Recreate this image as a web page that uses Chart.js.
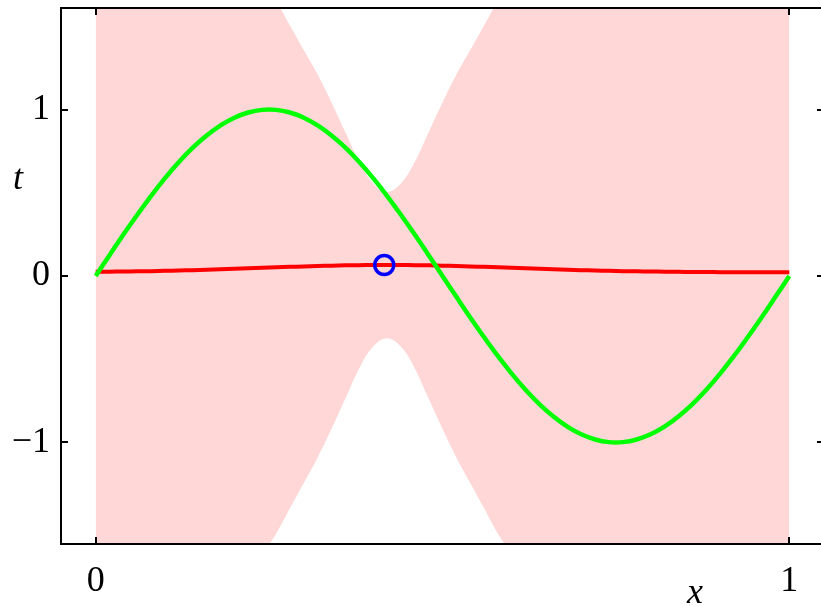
<!DOCTYPE html>
<html>
<head>
<meta charset="utf-8">
<script src="https://cdn.jsdelivr.net/npm/chart.js@4/dist/chart.umd.min.js"></script>
<style>
html,body{margin:0;padding:0;background:#fff;overflow:hidden;width:821px;height:606px;}
#wrap{width:826px;height:606px;}
</style>
</head>
<body>
<div id="wrap"><canvas id="c" width="826" height="606"></canvas></div>
<script>
// x grid (0 .. 1 step 0.02)
const xs = [0,0.02,0.04,0.06,0.08,0.10,0.12,0.14,0.16,0.18,0.20,0.22,0.24,0.26,0.28,0.30,0.32,0.34,0.36,0.38,0.40,0.42,0.44,0.46,0.48,0.50,0.52,0.54,0.56,0.58,0.60,0.62,0.64,0.66,0.68,0.70,0.72,0.74,0.76,0.78,0.80,0.82,0.84,0.86,0.88,0.90,0.92,0.94,0.96,0.98,1.00];
// green: true function
const trueCurve = [0,0.125,0.249,0.368,0.482,0.588,0.685,0.771,0.844,0.905,0.951,0.982,0.998,0.998,0.982,0.951,0.905,0.844,0.771,0.685,0.588,0.482,0.368,0.249,0.125,0,-0.125,-0.249,-0.368,-0.482,-0.588,-0.685,-0.771,-0.844,-0.905,-0.951,-0.982,-0.998,-0.998,-0.982,-0.951,-0.905,-0.844,-0.771,-0.685,-0.588,-0.482,-0.368,-0.249,-0.125,0];
// red: predictive mean
const meanCurve = [0.025,0.026,0.027,0.028,0.029,0.031,0.033,0.035,0.038,0.040,0.043,0.046,0.049,0.052,0.055,0.057,0.060,0.062,0.064,0.065,0.066,0.066,0.066,0.065,0.064,0.062,0.060,0.057,0.055,0.052,0.049,0.046,0.043,0.040,0.038,0.035,0.033,0.031,0.029,0.028,0.027,0.026,0.025,0.024,0.024,0.023,0.023,0.023,0.022,0.022,0.022];
// shaded band: mean +/- one standard deviation
const bandUpper = [2.31,2.29,2.27,2.25,2.22,2.19,2.153,2.115,2.068,2.01,1.943,1.866,1.769,1.652,1.505,1.357,1.21,1.042,0.864,0.685,0.556,0.506,0.556,0.685,0.864,1.042,1.21,1.357,1.505,1.652,1.769,1.866,1.943,2.01,2.068,2.115,2.153,2.19,2.22,2.25,2.27,2.29,2.31,2.32,2.33,2.34,2.35,2.36,2.37,2.38,2.39];
const bandLower = [-2.26,-2.23,-2.21,-2.19,-2.16,-2.13,-2.087,-2.045,-1.992,-1.93,-1.857,-1.774,-1.671,-1.548,-1.395,-1.243,-1.09,-0.918,-0.736,-0.555,-0.424,-0.374,-0.424,-0.555,-0.736,-0.918,-1.09,-1.243,-1.395,-1.548,-1.671,-1.774,-1.857,-1.93,-1.992,-2.045,-2.087,-2.13,-2.16,-2.19,-2.21,-2.23,-2.25,-2.27,-2.29,-2.30,-2.31,-2.32,-2.33,-2.34,-2.35];
// observed data point
const obsX = [0.416];
const obsT = [0.066];
// ticks
const xTicks = [0, 1];
const yTicks = [-1, 0, 1];
const xTickLabels = ['0', '1'];
const yTickLabels = ['\u22121', '0', '1'];

const SERIF = '"Liberation Serif", "Times New Roman", "DejaVu Serif", serif';
const pts = (ys) => xs.map((x, i) => ({x: x, y: ys[i]}));

const frame = {
  id: 'frame',
  afterDraw(chart) {
    const ctx = chart.ctx, a = chart.chartArea;
    const sx = chart.scales.x, sy = chart.scales.y;
    ctx.save();
    ctx.strokeStyle = '#000';
    ctx.lineWidth = 2;
    ctx.beginPath();
    ctx.rect(a.left, a.top, a.right - a.left, a.bottom - a.top);
    ctx.stroke();
    const L = 7;
    ctx.beginPath();
    xTicks.forEach(v => {
      const px = Math.round(sx.getPixelForValue(v));
      ctx.moveTo(px, a.bottom); ctx.lineTo(px, a.bottom - L);
      ctx.moveTo(px, a.top); ctx.lineTo(px, a.top + L);
    });
    yTicks.forEach(v => {
      const py = Math.round(sy.getPixelForValue(v));
      ctx.moveTo(a.left, py); ctx.lineTo(a.left + L, py);
      ctx.moveTo(a.right, py); ctx.lineTo(a.right - L, py);
    });
    ctx.stroke();
    ctx.fillStyle = '#000';
    ctx.font = 'italic 36px ' + SERIF;
    ctx.textAlign = 'center';
    ctx.textBaseline = 'alphabetic';
    ctx.fillText('t', 18, 189);
    ctx.fillText('x', 695, 603);
    ctx.restore();
  }
};

new Chart(document.getElementById('c'), {
  type: 'line',
  data: {
    datasets: [
      {data: obsX.map((x, i) => ({x: x, y: obsT[i]})), showLine: false, pointRadius: 9.5, pointBorderWidth: 3.5,
       pointBorderColor: '#0000ff', pointBackgroundColor: 'rgba(0,0,0,0)', order: 0},
      {data: pts(trueCurve), borderColor: '#00ff00', borderWidth: 4.5, pointRadius: 0, tension: 0.4, fill: false, order: 1},
      {data: pts(meanCurve), borderColor: '#ff0000', borderWidth: 4, pointRadius: 0, tension: 0.4, fill: false, order: 2},
      {data: pts(bandUpper), borderWidth: 0, borderColor: 'rgba(0,0,0,0)', pointRadius: 0, tension: 0.4,
       fill: '+1', backgroundColor: 'rgb(255,215,215)', order: 3},
      {data: pts(bandLower), borderWidth: 0, borderColor: 'rgba(0,0,0,0)', pointRadius: 0, tension: 0.4, fill: false, order: 4}
    ]
  },
  options: {
    responsive: false,
    animation: false,
    events: [],
    layout: {autoPadding: false, padding: {top: 8, right: 2, left: 0, bottom: 0}},
    plugins: {legend: {display: false}, tooltip: {enabled: false}},
    scales: {
      x: {
        type: 'linear', min: -0.05, max: 1.05,
        afterBuildTicks: s => { s.ticks = xTicks.map(v => ({value: v})); },
        afterFit: s => { s.height = 62; s.paddingLeft = 0; s.paddingRight = 0; s.paddingTop = 0; s.paddingBottom = 0; },
        grid: {display: false, drawTicks: false}, border: {display: false},
        ticks: {color: '#000', font: {family: SERIF, size: 36}, padding: 16, maxRotation: 0,
                callback: (v) => xTickLabels[xTicks.indexOf(v)]}
      },
      y: {
        type: 'linear', min: -1.61, max: 1.61,
        afterBuildTicks: s => { s.ticks = yTicks.map(v => ({value: v})); },
        afterFit: s => { s.width = 61; s.paddingLeft = 0; s.paddingRight = 0; s.paddingTop = 0; s.paddingBottom = 0; },
        grid: {display: false, drawTicks: false}, border: {display: false},
        ticks: {color: '#000', font: {family: SERIF, size: 36}, padding: 11,
                callback: (v) => yTickLabels[yTicks.indexOf(v)]}
      }
    }
  },
  plugins: [frame]
});
</script>
</body>
</html>
